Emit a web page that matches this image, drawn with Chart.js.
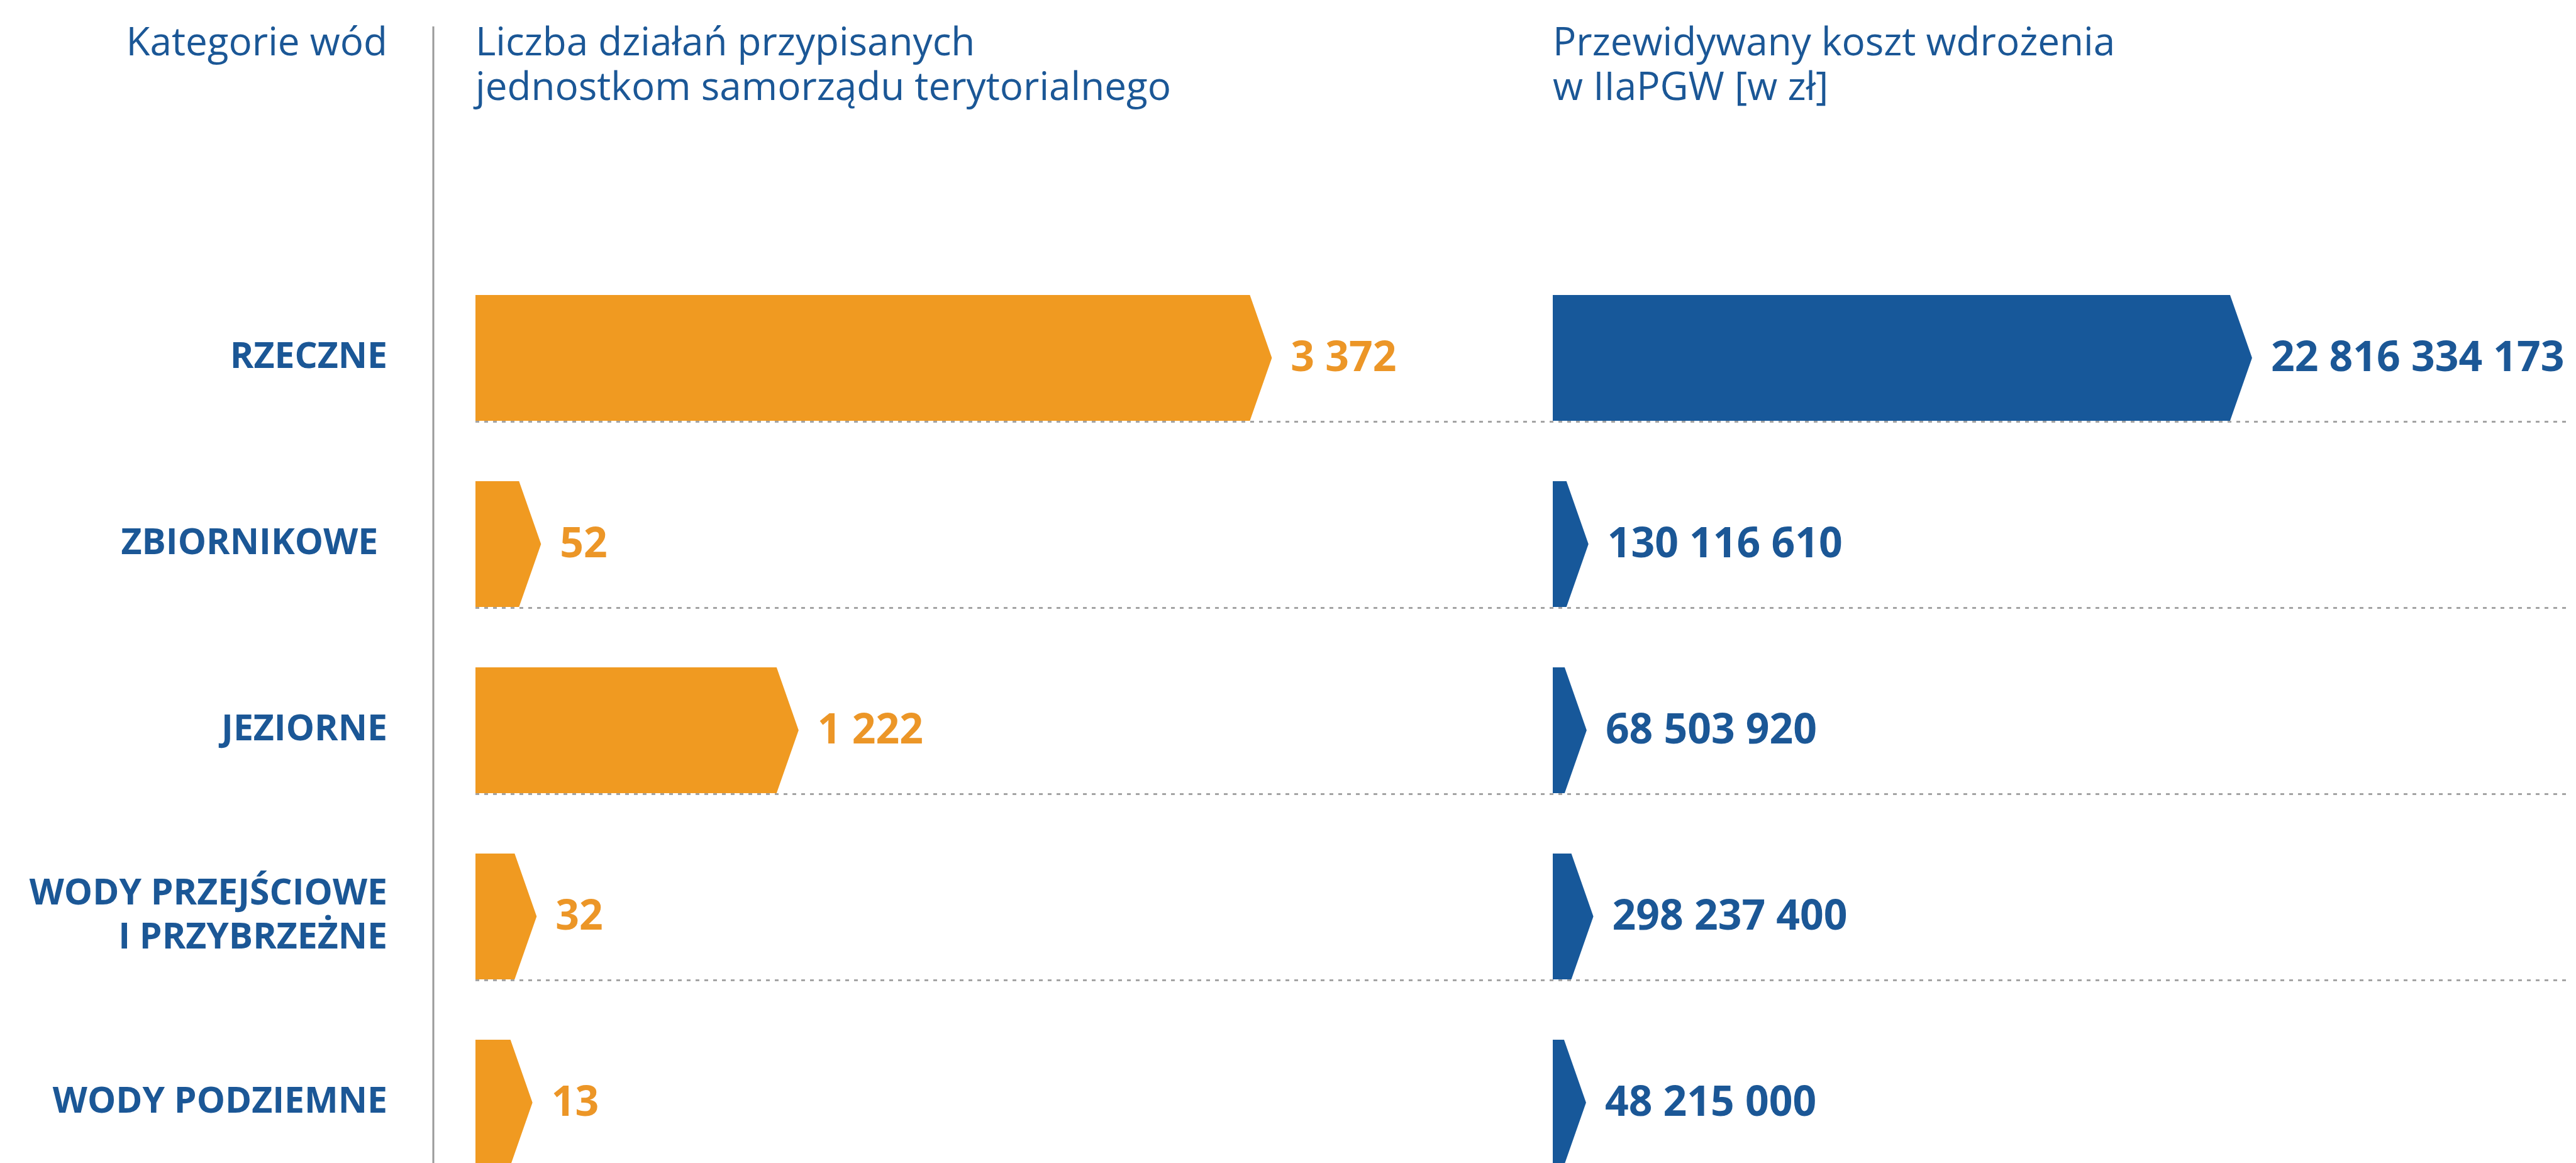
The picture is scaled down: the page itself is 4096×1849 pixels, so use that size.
<!DOCTYPE html>
<html lang="pl">
<head>
<meta charset="utf-8">
<title>Kategorie wód – działania JST i koszty</title>
<script src="https://cdn.jsdelivr.net/npm/chart.js@4.4.1/dist/chart.umd.min.js"></script>
<style>
  html, body { margin: 0; padding: 0; background: #fff; overflow: hidden; }
  #wrap { position: relative; width: 4096px; height: 1849px; overflow: hidden; }
  #waterChart { position: absolute; left: 0; top: 0; }
</style>
</head>
<body>
<div id="wrap">
  <canvas id="waterChart" width="4096" height="1901"></canvas>
</div>
<script>
document.addEventListener('DOMContentLoaded', function () {

const categories = ['RZECZNE', 'ZBIORNIKOWE ', 'JEZIORNE', ['WODY PRZEJŚCIOWE', 'I PRZYBRZEŻNE'], 'WODY PODZIEMNE'];
const actionCounts = [3372, 52, 1222, 32, 13];
const costsPLN = [22816334173, 130116610, 68503920, 298237400, 48215000];

const headerCategory = ['Kategorie wód'];
const headerCounts = ['Liczba działań przypisanych', 'jednostkom samorządu terytorialnego'];
const headerCosts = ['Przewidywany koszt wdrożenia', 'w IIaPGW [w zł]'];

const orange = '#F09A21';
const orangeText = '#EC9627';
const blue = '#17589A';
const blueText = '#1B5796';

// the source graphic gives small bars a visible stub, so the bars start below zero
const countBase = -246;
const costBase = -1.09e9;

function spaced(n) {
    return String(n).replace(/\B(?=(\d{3})+(?!\d))/g, ' ');
}

// bars drawn as arrows: rectangle with a pointed end
const arrowBars = {
    id: 'arrowBars',
    beforeDatasetsDraw(chart) {
        // dotted row separators along the bar bottoms
        const ctx = chart.ctx;
        const area = chart.chartArea;
        const bars = chart.getDatasetMeta(0).data;
        ctx.save();
        ctx.strokeStyle = '#a4a4a4';
        ctx.lineWidth = 3;
        ctx.setLineDash([6, 8]);
        bars.forEach(bar => {
            const yb = Math.round(bar.y + bar.height / 2) + 1.5;
            ctx.beginPath();
            ctx.moveTo(area.left, yb);
            ctx.lineTo(area.right - 10, yb);
            ctx.stroke();
        });
        ctx.restore();
    },
    beforeDatasetDraw(chart, args) {
        const ctx = chart.ctx;
        const ds = chart.data.datasets[args.index];
        ctx.save();
        ctx.fillStyle = ds.backgroundColor;
        args.meta.data.forEach(bar => {
            const tip = Math.min(35, bar.x - bar.base);
            const top = bar.y - bar.height / 2;
            const bot = bar.y + bar.height / 2;
            ctx.beginPath();
            ctx.moveTo(bar.base, top);
            ctx.lineTo(bar.x - tip, top);
            ctx.lineTo(bar.x, bar.y);
            ctx.lineTo(bar.x - tip, bot);
            ctx.lineTo(bar.base, bot);
            ctx.closePath();
            ctx.fill();
        });
        ctx.restore();
        return false;
    },
    afterDatasetsDraw(chart) {
        const ctx = chart.ctx;
        ctx.save();
        ctx.font = 'bold 66px "Open Sans"';
        ctx.textAlign = 'left';
        ctx.textBaseline = 'middle';
        chart.data.datasets.forEach((ds, i) => {
            ctx.fillStyle = ds.labelColor;
            chart.getDatasetMeta(i).data.forEach((bar, j) => {
                ctx.fillText(spaced(ds.data[j]), bar.x + 30, bar.y + 2);
            });
        });
        ctx.restore();
    }
};

// column headings and the divider line
const headings = {
    id: 'headings',
    afterDraw(chart) {
        const ctx = chart.ctx;
        const yS = chart.scales.y;
        const labelRight = yS.right - yS.options.ticks.padding;
        const lineX = Math.round((labelRight + yS.right) / 2) + 3;
        ctx.save();
        ctx.strokeStyle = '#9a9a9a';
        ctx.lineWidth = 3;
        ctx.beginPath();
        ctx.moveTo(lineX, 42);
        ctx.lineTo(lineX, chart.height);
        ctx.stroke();

        ctx.fillStyle = blueText;
        ctx.font = '62px "Open Sans"';
        ctx.textBaseline = 'alphabetic';
        const base = [88, 159];
        ctx.textAlign = 'right';
        headerCategory.forEach((t, i) => ctx.fillText(t, labelRight, base[i]));
        ctx.textAlign = 'left';
        headerCounts.forEach((t, i) => ctx.fillText(t, chart.scales.x.left, base[i]));
        headerCosts.forEach((t, i) => ctx.fillText(t, chart.scales.x2.left, base[i]));
        ctx.restore();
    }
};

const waterData = {
    labels: categories,
    datasets: [{
        label: 'Liczba działań przypisanych JST',
        data: actionCounts,
        xAxisID: 'x',
        base: countBase,
        backgroundColor: orange,
        labelColor: orangeText
    }, {
        label: 'Przewidywany koszt wdrożenia [zł]',
        data: costsPLN,
        xAxisID: 'x2',
        base: costBase,
        backgroundColor: blue,
        labelColor: blueText
    }]
};

const waterConfig = {
    type: 'bar',
    data: waterData,
    plugins: [arrowBars, headings],
    options: {
        indexAxis: 'y',
        responsive: false,
        animation: false,
        grouped: false,
        categoryPercentage: 1,
        barPercentage: 0.675,
        layout: { padding: { top: 421, left: 0, right: 0, bottom: 0 } },
        plugins: {
            legend: { display: false },
            tooltip: { enabled: false }
        },
        scales: {
            y: {
                type: 'category',
                grid: { display: false, drawTicks: false },
                border: { display: false },
                ticks: {
                    color: blueText,
                    padding: 140,
                    font: { family: 'Open Sans', weight: 'bold', size: 57, lineHeight: 1.23 }
                },
                afterFit: function (scale) {
                    scale.width = 756;
                    scale.paddingTop = 0;
                    scale.paddingBottom = 0;
                }
            },
            x: {
                type: 'linear',
                position: 'bottom',
                stack: 'panels',
                stackWeight: 1713,
                min: countBase,
                max: 4648,
                display: false
            },
            x2: {
                type: 'linear',
                axis: 'x',
                position: 'bottom',
                stack: 'panels',
                stackWeight: 1627,
                min: costBase,
                max: 3.389e10,
                display: false
            }
        }
    }
};

new Chart(
    document.getElementById('waterChart').getContext('2d'),
    waterConfig
);
});
</script>
</body>
</html>
